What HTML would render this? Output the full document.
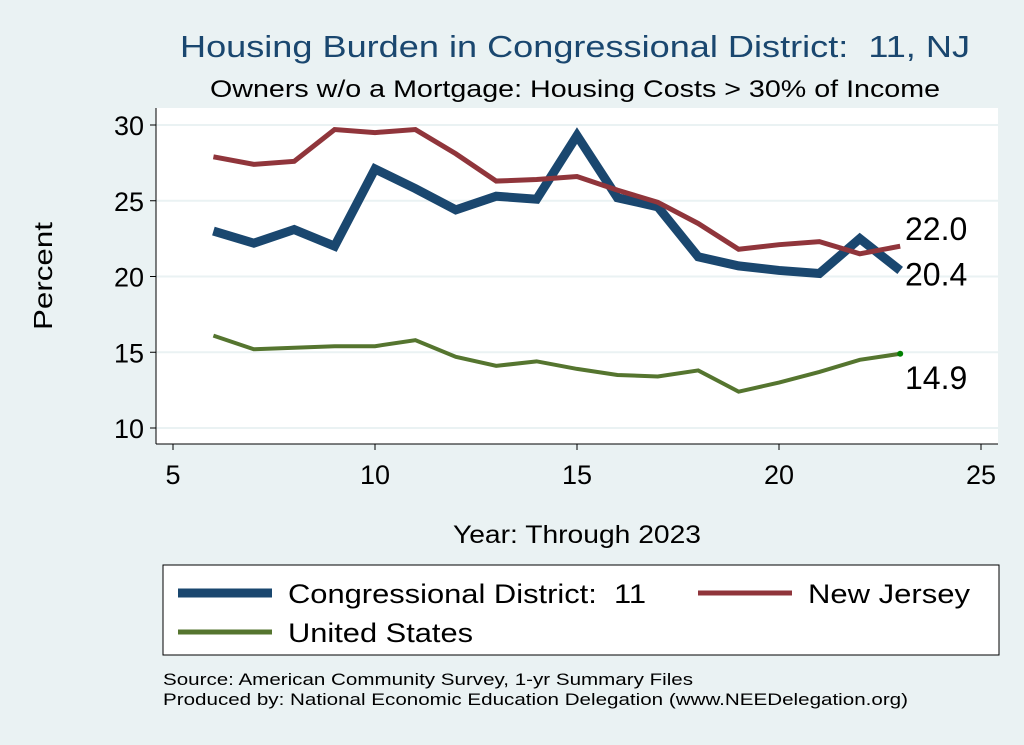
<!DOCTYPE html>
<html><head><meta charset="utf-8"><style>
body{margin:0;background:#eaf2f3;font-family:"Liberation Sans",sans-serif}
svg{display:block}
</style></head><body>
<svg width="1024" height="745" xmlns="http://www.w3.org/2000/svg" font-family="Liberation Sans, sans-serif">
<rect width="1024" height="745" fill="#eaf2f3"/>
<text x="180" y="57" font-size="31" fill="#1a476f" textLength="790" lengthAdjust="spacingAndGlyphs">Housing Burden in Congressional District:&#160; 11, NJ</text>
<text x="210" y="97" font-size="24" fill="#000" textLength="730" lengthAdjust="spacingAndGlyphs">Owners w/o a Mortgage: Housing Costs &gt; 30% of Income</text>
<rect x="156" y="108" width="842" height="336" fill="#fff"/>
<g id="grid"></g>
<g id="axes"></g>
<g id="series"></g>
<text x="52" y="276" font-size="26" text-anchor="middle" textLength="108" lengthAdjust="spacingAndGlyphs" transform="rotate(-90 52 276)">Percent</text>
<text x="453" y="543" font-size="25" textLength="248" lengthAdjust="spacingAndGlyphs">Year: Through 2023</text>
<g>
<rect x="163" y="565" width="836" height="90" fill="#fff" stroke="#000" stroke-width="1"/>
<line x1="178" y1="593" x2="272" y2="593" stroke="#1a476f" stroke-width="9"/>
<text x="288" y="603" font-size="27" textLength="358" lengthAdjust="spacingAndGlyphs">Congressional District:&#160; 11</text>
<line x1="698" y1="593" x2="792" y2="593" stroke="#90353b" stroke-width="5"/>
<text x="808" y="603" font-size="27" textLength="162" lengthAdjust="spacingAndGlyphs">New Jersey</text>
<line x1="178" y1="632" x2="272" y2="632" stroke="#55752f" stroke-width="5"/>
<text x="288" y="642" font-size="27" textLength="185" lengthAdjust="spacingAndGlyphs">United States</text>
</g>
<text x="163" y="685" font-size="17" textLength="530" lengthAdjust="spacingAndGlyphs">Source: American Community Survey, 1-yr Summary Files</text>
<text x="163" y="705" font-size="17" textLength="745" lengthAdjust="spacingAndGlyphs">Produced by: National Economic Education Delegation (www.NEEDelegation.org)</text>
</svg>
<script>
const years=[6,7,8,9,10,11,12,13,14,15,16,17,18,19,20,21,22,23];
const district=[23.0,22.2,23.1,22.0,27.1,25.8,24.4,25.3,25.1,29.3,25.2,24.6,21.3,20.7,20.4,20.2,22.5,20.4];
const newJersey=[27.9,27.4,27.6,29.7,29.5,29.7,28.1,26.3,26.4,26.6,25.7,24.9,23.5,21.8,22.1,22.3,21.5,22.0];
const unitedStates=[16.1,15.2,15.3,15.4,15.4,15.8,14.7,14.1,14.4,13.9,13.5,13.4,13.8,12.4,13.0,13.7,14.5,14.9];
const xTicks=[5,10,15,20,25];
const yTicks=[10,15,20,25,30];
const NS="http://www.w3.org/2000/svg";
function xs(v){return 173+(v-5)*(981-173)/20;}
function ys(v){return 428-(v-10)*(428-125)/20;}
function mk(tag,attrs,parent){const e=document.createElementNS(NS,tag);for(const k in attrs)e.setAttribute(k,attrs[k]);parent.appendChild(e);return e;}
const grid=document.getElementById('grid'),axes=document.getElementById('axes'),ser=document.getElementById('series');
yTicks.forEach(t=>{
 const g=mk('line',{x1:156,x2:998,y1:ys(t),y2:ys(t),stroke:'#eaf2f3','stroke-width':2},grid);
 
 
 const tk=mk('line',{x1:150,x2:156,y1:ys(t),y2:ys(t),stroke:'#000','stroke-width':1},axes);
 
 
 const tx=mk('text',{x:144,y:ys(t)+10,'font-size':27,'text-anchor':'end'},axes);
 tx.textContent=t;
 
 
});
xTicks.forEach(t=>{
 const tk=mk('line',{x1:xs(t),x2:xs(t),y1:444,y2:450,stroke:'#000','stroke-width':1},axes);
 
 
 const tx=mk('text',{x:xs(t),y:484,'font-size':27,'text-anchor':'middle'},axes);
 tx.textContent=t;
 
 
});
const ya=mk('line',{x1:156,x2:156,y1:108,y2:444,stroke:'#000','stroke-width':1},axes);


const xa=mk('line',{x1:156,x2:998,y1:444,y2:444,stroke:'#000','stroke-width':1},axes);


function line(vals,color,w,name){
 const p=mk('polyline',{points:vals.map((v,i)=>xs(years[i])+','+ys(v)).join(' '),fill:'none',stroke:color,'stroke-width':w,'stroke-linejoin':'miter'},ser);
 
 
}
line(unitedStates,'#55752f',4,'us-line');
line(district,'#1a476f',9,'district-line');
line(newJersey,'#90353b',5,'nj-line');
const dot=mk('circle',{cx:xs(years[years.length-1]),cy:ys(unitedStates[unitedStates.length-1]),r:3,fill:'#008000'},ser);


const n=years.length-1;
[[newJersey[n],-6,'nj-end-label'],[district[n],15,'district-end-label'],[unitedStates[n],35,'us-end-label']].forEach(([v,dy,nm])=>{
 const t=mk('text',{x:905,y:ys(v)+dy,'font-size':32},ser);
 t.textContent=v.toFixed(1);
 
 
});
</script>
</body></html>
